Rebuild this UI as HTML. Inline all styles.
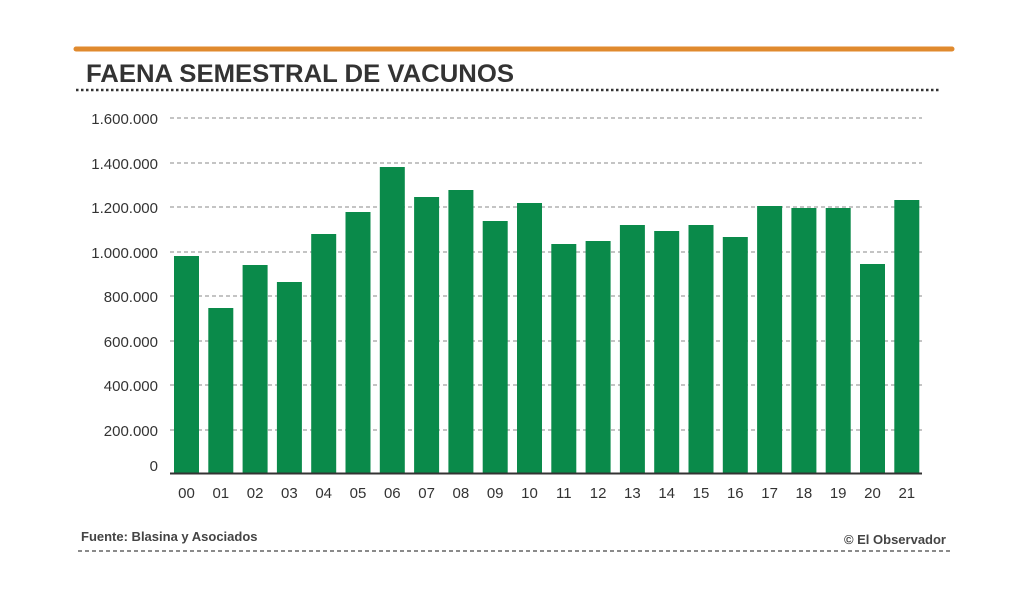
<!DOCTYPE html>
<html><head><meta charset="utf-8"><style>
body{margin:0;background:#fff;}
svg{display:block;font-family:"Liberation Sans",sans-serif;}
</style></head><body>
<svg width="1024" height="597" viewBox="0 0 1024 597">
<rect width="1024" height="597" fill="#fff"/>
<line x1="76" y1="49" x2="952" y2="49" stroke="#e08a2e" stroke-width="5" stroke-linecap="round"/>
<text x="86" y="82" font-size="25" font-weight="bold" fill="#333" textLength="428" lengthAdjust="spacingAndGlyphs">FAENA SEMESTRAL DE VACUNOS</text>
<line x1="76" y1="90" x2="940" y2="90" stroke="#333" stroke-width="2.5" stroke-dasharray="2.5,2.5"/>
<g stroke="#888" stroke-width="1" stroke-dasharray="4,3">
<line x1="170" y1="118" x2="922" y2="118"/>
<line x1="170" y1="163" x2="922" y2="163"/>
<line x1="170" y1="207" x2="922" y2="207"/>
<line x1="170" y1="252" x2="922" y2="252"/>
<line x1="170" y1="296" x2="922" y2="296"/>
<line x1="170" y1="341" x2="922" y2="341"/>
<line x1="170" y1="385" x2="922" y2="385"/>
<line x1="170" y1="430" x2="922" y2="430"/>
</g>
<g font-size="15" fill="#333" text-anchor="end">
<text x="158" y="124">1.600.000</text>
<text x="158" y="169">1.400.000</text>
<text x="158" y="213">1.200.000</text>
<text x="158" y="258">1.000.000</text>
<text x="158" y="302">800.000</text>
<text x="158" y="347">600.000</text>
<text x="158" y="391">400.000</text>
<text x="158" y="436">200.000</text>
<text x="158" y="471">0</text>
</g>
<g fill="#0a8a4a">
<rect x="174" y="256" width="25" height="217"/>
<rect x="208.3" y="308" width="25" height="165"/>
<rect x="242.6" y="265" width="25" height="208"/>
<rect x="276.9" y="282" width="25" height="191"/>
<rect x="311.2" y="234" width="25" height="239"/>
<rect x="345.5" y="212" width="25" height="261"/>
<rect x="379.8" y="167" width="25" height="306"/>
<rect x="414.1" y="197" width="25" height="276"/>
<rect x="448.4" y="190" width="25" height="283"/>
<rect x="482.7" y="221" width="25" height="252"/>
<rect x="517" y="203" width="25" height="270"/>
<rect x="551.3" y="244" width="25" height="229"/>
<rect x="585.6" y="241" width="25" height="232"/>
<rect x="619.9" y="225" width="25" height="248"/>
<rect x="654.2" y="231" width="25" height="242"/>
<rect x="688.5" y="225" width="25" height="248"/>
<rect x="722.8" y="237" width="25" height="236"/>
<rect x="757.1" y="206" width="25" height="267"/>
<rect x="791.4" y="208" width="25" height="265"/>
<rect x="825.7" y="208" width="25" height="265"/>
<rect x="860" y="264" width="25" height="209"/>
<rect x="894.3" y="200" width="25" height="273"/>
</g>
<line x1="170" y1="473.5" x2="922" y2="473.5" stroke="#333" stroke-width="2"/>
<g font-size="15" fill="#333" text-anchor="middle">
<text x="186.5" y="498">00</text><text x="220.8" y="498">01</text><text x="255.1" y="498">02</text><text x="289.4" y="498">03</text><text x="323.7" y="498">04</text><text x="358" y="498">05</text><text x="392.3" y="498">06</text><text x="426.6" y="498">07</text><text x="460.9" y="498">08</text><text x="495.2" y="498">09</text><text x="529.5" y="498">10</text><text x="563.8" y="498">11</text><text x="598.1" y="498">12</text><text x="632.4" y="498">13</text><text x="666.7" y="498">14</text><text x="701" y="498">15</text><text x="735.3" y="498">16</text><text x="769.6" y="498">17</text><text x="803.9" y="498">18</text><text x="838.2" y="498">19</text><text x="872.5" y="498">20</text><text x="906.8" y="498">21</text>
</g>
<text x="81" y="541" font-size="13" font-weight="bold" fill="#444">Fuente: Blasina y Asociados</text>
<text x="946" y="544" font-size="13" font-weight="bold" fill="#444" text-anchor="end">© El Observador</text>
<line x1="78" y1="551" x2="950" y2="551" stroke="#444" stroke-width="1.2" stroke-dasharray="4,3"/>
</svg>
</body></html>
